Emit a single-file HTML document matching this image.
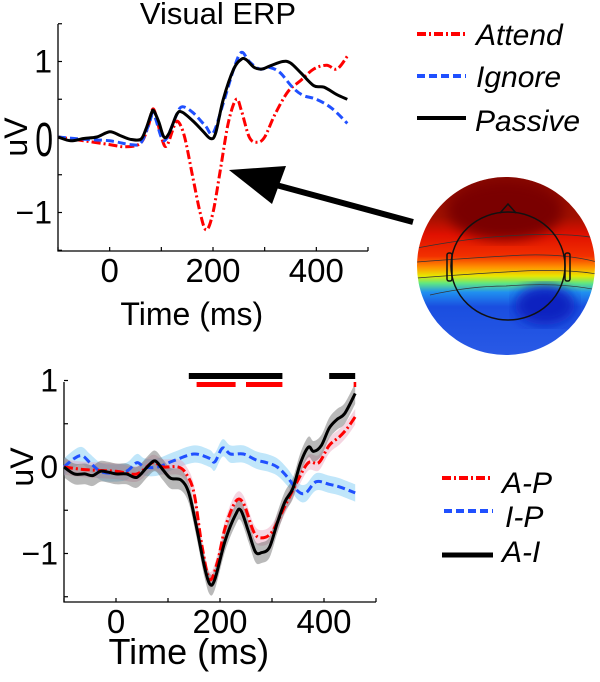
<!DOCTYPE html>
<html><head><meta charset="utf-8"><style>
html,body{margin:0;padding:0;background:#fff;}
svg{display:block;font-family:"Liberation Sans",Arial,sans-serif;}
</style></head><body>
<svg id="fig" width="600" height="682" viewBox="0 0 600 682" xmlns="http://www.w3.org/2000/svg">
<defs>
<clipPath id="headclip"><circle cx="506" cy="266" r="89"/></clipPath>
<linearGradient id="topo" x1="0" y1="0" x2="0" y2="1">
<stop offset="0" stop-color="#8a0a00"/><stop offset="0.22" stop-color="#a01000"/>
<stop offset="0.32" stop-color="#e01000"/><stop offset="0.44" stop-color="#f23000"/>
<stop offset="0.5" stop-color="#ff9000"/><stop offset="0.55" stop-color="#e8e800"/>
<stop offset="0.59" stop-color="#60e880"/><stop offset="0.64" stop-color="#2090f0"/>
<stop offset="0.72" stop-color="#1a4ee0"/><stop offset="1" stop-color="#2a5ae6"/>
</linearGradient>
<filter id="blur"><feGaussianBlur stdDeviation="6"/></filter>
</defs>
<g id="top"></g>
<g id="bot"></g>
<text x="218" y="24" font-size="31" text-anchor="middle">Visual ERP</text>
<g>
<line x1="417" y1="34" x2="466" y2="34" stroke="#f00" stroke-width="4" stroke-dasharray="9,3,2,3"/>
<text x="476" y="45" font-size="30" font-style="italic">Attend</text>
<line x1="417" y1="76" x2="466" y2="76" stroke="#2050ff" stroke-width="4" stroke-dasharray="8,4"/>
<text x="476" y="87" font-size="30" font-style="italic">Ignore</text>
<line x1="417" y1="118" x2="466" y2="118" stroke="#000" stroke-width="4"/>
<text x="475" y="131" font-size="30" font-style="italic">Passive</text>
</g>
<g>
<line x1="442" y1="478" x2="493" y2="478" stroke="#f00" stroke-width="4" stroke-dasharray="9,3,2,3"/>
<text x="502" y="493" font-size="30" font-style="italic">A-P</text>
<line x1="444" y1="511" x2="493" y2="511" stroke="#2050ff" stroke-width="4" stroke-dasharray="8,4"/>
<text x="505" y="527" font-size="30" font-style="italic">I-P</text>
<line x1="442" y1="555" x2="493" y2="555" stroke="#000" stroke-width="5"/>
<text x="502" y="562" font-size="30" font-style="italic">A-I</text>
</g>
<g>
<g clip-path="url(#headclip)">
<rect x="417" y="177" width="180" height="180" fill="url(#topo)"/>
<ellipse cx="505" cy="210" rx="58" ry="30" fill="#7a0000" filter="url(#blur)"/>
<ellipse cx="545" cy="305" rx="30" ry="20" fill="#0a20c0" filter="url(#blur)"/>
<path d="M417,248 Q470,238 506,236 Q560,232 597,238" fill="none" stroke="#333" stroke-width="0.7"/>
<path d="M417,262 Q470,258 506,256 Q560,252 597,262" fill="none" stroke="#333" stroke-width="0.7"/>
<path d="M417,278 Q470,274 506,272 Q560,268 597,274" fill="none" stroke="#333" stroke-width="0.7"/>
<path d="M430,295 Q470,286 506,286 Q560,282 597,290" fill="none" stroke="#333" stroke-width="0.7"/>
</g>
<ellipse cx="508" cy="266" rx="57" ry="54" fill="none" stroke="#111" stroke-width="1.5"/>
<path d="M500,213 L508,204 L516,213" fill="none" stroke="#111" stroke-width="1.5"/>
<rect x="447" y="253" width="5" height="28" rx="2" fill="none" stroke="#111" stroke-width="1.5"/>
<rect x="565" y="253" width="5" height="28" rx="2" fill="none" stroke="#111" stroke-width="1.5"/>
</g>
<g>
<line x1="413" y1="222" x2="265" y2="182" stroke="#000" stroke-width="6"/>
<polygon points="229,170 286,166 272,204" fill="#000"/>
</g>
</svg>
<script>
// Top chart data
const topTimes = [-100,-75,-50,-25,0,20,40,60,70,80,85,95,105,115,130,140,160,180,195,205,220,240,255,265,280,295,310,335,350,370,395,415,440,460];
const passiveVals = [0,-0.05,-0.02,0,0.07,0.02,-0.03,-0.03,0.1,0.3,0.35,0.2,0,0.05,0.3,0.33,0.22,0.08,-0.02,0.05,0.5,0.9,1.03,1.02,0.92,0.9,0.94,1.0,0.98,0.85,0.68,0.66,0.56,0.5];
const ignoreTimes = [-100,-50,0,40,60,75,85,100,110,130,140,160,185,200,220,240,255,270,290,310,330,355,375,400,430,460];
const ignoreVals = [0,-0.03,-0.05,-0.1,-0.08,0.15,0.3,0,-0.02,0.3,0.4,0.33,0.15,0.05,0.45,0.9,1.12,1.0,0.9,0.92,0.85,0.65,0.55,0.5,0.38,0.18];
const attendTimes = [-100,-50,0,30,60,75,85,100,110,125,133,145,160,175,187,200,215,230,245,255,270,285,300,320,345,370,395,420,440,460];
const attendVals = [0,-0.05,-0.1,-0.13,-0.08,0.15,0.37,0,-0.12,0.15,0.2,0,-0.5,-1.0,-1.23,-1.0,-0.4,0.2,0.5,0.35,0,-0.07,0,0.3,0.6,0.75,0.9,0.95,0.9,1.07];
const xTickLabels = [0,200,400];
const xTicks = [-100,0,100,200,300,400,500];
// Bottom chart data
const aiTimes = [-100,-80,-60,-45,-30,-15,0,20,40,60,75,90,105,125,140,155,170,180,190,210,230,240,255,268,280,295,310,325,340,355,370,380,395,410,425,440,460];
const aiVals = [0,-0.08,-0.08,-0.1,-0.05,-0.06,-0.08,-0.08,-0.12,0,0.07,-0.03,-0.13,-0.15,-0.3,-0.7,-1.15,-1.35,-1.3,-0.85,-0.55,-0.5,-0.75,-0.98,-0.99,-0.93,-0.65,-0.4,-0.25,0.05,0.23,0.18,0.25,0.45,0.55,0.62,0.85];
const apTimes = [-100,-60,0,40,70,90,120,135,150,165,180,195,210,230,245,265,280,300,325,350,370,390,410,430,445,460];
const apVals = [0,-0.03,-0.05,-0.08,0.05,0,0,-0.08,-0.3,-0.9,-1.3,-1.1,-0.7,-0.4,-0.42,-0.75,-0.82,-0.75,-0.45,-0.15,0.05,0.05,0.25,0.35,0.45,0.58];
const ipTimes = [-100,-80,-65,-50,-30,-10,20,40,55,80,110,150,180,190,205,220,245,270,290,310,330,350,365,385,410,430,460];
const ipVals = [0,0.1,0.13,0.05,-0.05,-0.07,-0.05,0.05,0,0,0.07,0.15,0.1,0.06,0.22,0.15,0.15,0.08,0.05,0,-0.12,-0.28,-0.3,-0.17,-0.2,-0.23,-0.3];
const bandHalf = [0.12,0.09,0.1];
const sigBlack = [[140,320],[410,460]];
const sigRed = [[155,230],[250,320],[457,462]];

const NS = "http://www.w3.org/2000/svg";
function mk(parent, tag, attrs){const e=document.createElementNS(NS,tag);for(const k in attrs)e.setAttribute(k,attrs[k]);parent.appendChild(e);return e;}
function smooth(pts){let d="M"+pts[0][0].toFixed(1)+","+pts[0][1].toFixed(1);
 for(let i=0;i<pts.length-1;i++){const p0=pts[i-1]||pts[i],p1=pts[i],p2=pts[i+1],p3=pts[i+2]||p2;
  const c1=[p1[0]+(p2[0]-p0[0])/6,p1[1]+(p2[1]-p0[1])/6],c2=[p2[0]-(p3[0]-p1[0])/6,p2[1]-(p3[1]-p1[1])/6];
  d+=" C"+c1[0].toFixed(1)+","+c1[1].toFixed(1)+" "+c2[0].toFixed(1)+","+c2[1].toFixed(1)+" "+p2[0].toFixed(1)+","+p2[1].toFixed(1);}
 return d;}
function axes(g,cfg){
 const X=t=>cfg.x0+(t-(-100))/600*(cfg.x1-cfg.x0);
 const Y=v=>cfg.yz-v*cfg.ys;
 const ax=mk(g,"path",{d:`M${cfg.x0},${cfg.yTop} L${cfg.x0},${cfg.yb} L${cfg.x1},${cfg.yb}`,fill:"none",stroke:"#000","stroke-width":1.3});
 
 
 xTicks.forEach(t=>{const tk=mk(g,"line",{x1:X(t),x2:X(t),y1:cfg.yb,y2:cfg.yb-4,stroke:"#000","stroke-width":1.2});
  
  });
 xTickLabels.forEach(t=>{const tl=mk(g,"text",{x:X(t),y:cfg.yb+31,"font-size":33,"text-anchor":"middle"});tl.textContent=t;
  
  });
 cfg.yTicks.forEach(v=>{const tk=mk(g,"line",{x1:cfg.x0,x2:cfg.x0+4,y1:Y(v),y2:Y(v),stroke:"#000","stroke-width":1.2});
  
  });
 [[1,"1"],[0,"0"],[-1,"\u22121"]].forEach(([v,s])=>{
  let tl;
  if(v===0 && cfg.tallZero){tl=mk(g,"text",{x:0,y:0,"font-size":32,"text-anchor":"end",transform:`translate(${cfg.x0-5},${Y(v)+19}) scale(1,1.5)`});}
  else {tl=mk(g,"text",{x:cfg.x0-6,y:Y(v)+11,"font-size":32,"text-anchor":"end"});}
  tl.textContent=s;
  
  });
 const xt=mk(g,"text",{x:X(cfg.titleT),y:cfg.yb+cfg.titleOff,"font-size":cfg.titleSize,"text-anchor":"middle"});xt.textContent="Time (ms)";
 
 
 const yt=mk(g,"text",{x:0,y:0,"font-size":32,"text-anchor":"middle",transform:`translate(${cfg.x0-31},${cfg.yz}) rotate(-90)`});yt.textContent="uV";
 
 
 return {X,Y};
}
function line(g,s,times,vals,style,name){const pts=times.map((t,i)=>[s.X(t),s.Y(vals[i])]);
 const p=mk(g,"path",Object.assign({d:smooth(pts),fill:"none"},style));
 
 }
function band(g,s,times,vals,h,fill,name){
 const up=times.map((t,i)=>[s.X(t),s.Y(vals[i]+h)]),dn=times.map((t,i)=>[s.X(t),s.Y(vals[i]-h)]).reverse();
 const d=smooth(up)+" L"+smooth(dn).slice(1)+" Z";
 const p=mk(g,"path",{d:d,fill:fill,stroke:"none"});
 
 }
const RED={stroke:"#f00","stroke-width":3,"stroke-dasharray":"9,3,2,3"},BLUE={stroke:"#2050ff","stroke-width":3,"stroke-dasharray":"8,4"},BLK={stroke:"#000","stroke-width":3};

const gt=document.getElementById("top");
const st=axes(gt,{x0:58,x1:368,yTop:24,yb:251,yz:137,ys:75.5,yTicks:[1.5,1,0.5,0,-0.5,-1,-1.5],titleOff:74,titleT:159,titleSize:32,tallZero:true});
line(gt,st,attendTimes,attendVals,RED,"attend-line");
line(gt,st,ignoreTimes,ignoreVals,BLUE,"ignore-line");
line(gt,st,topTimes,passiveVals,BLK,"passive-line");

const gb=document.getElementById("bot");
const sb=axes(gb,{x0:64,x1:376,yTop:382,yb:602,yz:467,ys:86.5,yTicks:[1,0.5,0,-0.5,-1,-1.5],titleOff:62,titleT:140,titleSize:36,tallZero:false});
band(gb,sb,ipTimes,ipVals,bandHalf[2],"rgba(140,210,245,0.55)","ip-ci-band");
band(gb,sb,apTimes,apVals,bandHalf[1],"rgba(230,150,180,0.4)","ap-ci-band");
band(gb,sb,aiTimes,aiVals,bandHalf[0],"rgba(100,100,100,0.45)","ai-ci-band");
line(gb,sb,ipTimes,ipVals,BLUE,"ip-line");
line(gb,sb,apTimes,apVals,RED,"ap-line");
line(gb,sb,aiTimes,aiVals,BLK,"ai-line");
sigBlack.forEach(([a,b])=>{const r=mk(gb,"rect",{x:sb.X(a),y:373,width:sb.X(b)-sb.X(a),height:6,fill:"#000"});
 
 });
sigRed.forEach(([a,b])=>{const r=mk(gb,"rect",{x:sb.X(a),y:382,width:sb.X(b)-sb.X(a),height:5,fill:"#f00"});
 
 });
</script>
</body></html>
